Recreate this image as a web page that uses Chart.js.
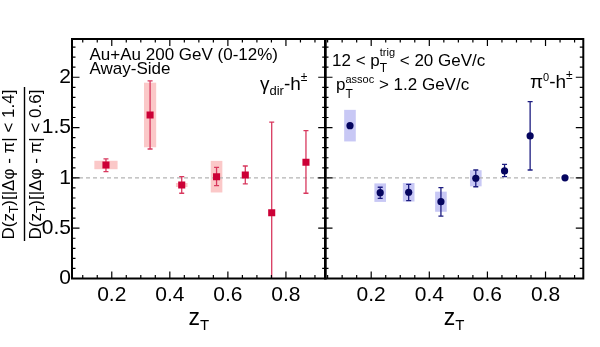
<!DOCTYPE html>
<html>
<head>
<meta charset="utf-8">
<script src="https://cdn.jsdelivr.net/npm/chart.js@4.4.0/dist/chart.umd.min.js"></script>
<style>
  html, body { margin: 0; padding: 0; background: #fff; }
  #wrap { position: relative; width: 600px; height: 347px; }
  #wrap canvas { position: absolute; left: 0; top: 0; }
</style>
</head>
<body>
<div id="wrap">
  <canvas id="gLeft" width="600" height="347"></canvas>
  <canvas id="gRight" width="600" height="347"></canvas>
</div>
<script>
// ======= Dados =======
const xTicks = [0.2, 0.4, 0.6, 0.8];
const yTicks = [0, 0.5, 1, 1.5, 2];
const yRange = [0, 2.38];

// gamma_dir - h (vermelho)
const xRange_gamma = [0.063, 0.937];
const zT_gamma     = [0.180, 0.332, 0.441, 0.561, 0.660, 0.751, 0.869];
const ratio_gamma  = [1.128, 1.625, 0.929, 1.012, 1.029, 0.654, 1.155];
const statUp_gamma = [0.060, 0.338, 0.083, 0.093, 0.089, 0.899, 0.314];
const statDn_gamma = [0.066, 0.338, 0.082, 0.089, 0.089, 0.900, 0.308];
const sys_gamma    = [0.042, 0.321, 0.020, 0.157, 0, 0, 0];
const sysDx_gamma  = [0.040, 0.021, 0.020, 0.020, 0, 0, 0];

// pi0 - h (azul)
const xRange_pi0   = [0.041, 0.930];
const zT_pi0       = [0.127, 0.231, 0.329, 0.440, 0.560, 0.659, 0.747, 0.867];
const ratio_pi0    = [1.519, 0.853, 0.857, 0.763, 0.996, 1.069, 1.417, 1.000];
const statUp_pi0   = [0, 0.054, 0.079, 0.140, 0.082, 0.066, 0.340, 0];
const statDn_pi0   = [0, 0.056, 0.083, 0.143, 0.084, 0.057, 0.339, 0];
const sys_pi0      = [0.157, 0.092, 0.092, 0.100, 0.080, 0, 0, 0];
const sysDx_pi0    = [0.020, 0.020, 0.020, 0.020, 0.020, 0, 0, 0];

const FONTE = '"Liberation Sans", Arial, Helvetica, sans-serif';

// ======= Texto com sub/sobrescrito =======
function medir(ctx, partes) {
  let cx = 0, prevX = 0, prevW = 0;
  partes.forEach(p => {
    ctx.font = p.s + 'px ' + FONTE;
    const w = ctx.measureText(p.t).width;
    if (p.stack) cx = prevX + Math.max(prevW, w);
    else { prevX = cx; prevW = w; cx += w; }
  });
  return cx;
}
function rich(ctx, partes, x, y) {
  let cx = x, prevX = x, prevW = 0;
  ctx.textBaseline = 'alphabetic';
  ctx.textAlign = 'left';
  partes.forEach(p => {
    ctx.font = p.s + 'px ' + FONTE;
    const w = ctx.measureText(p.t).width;
    const px = p.stack ? prevX : cx;
    ctx.fillText(p.t, px, y + (p.dy || 0));
    if (p.stack) cx = prevX + Math.max(prevW, w);
    else { prevX = cx; prevW = w; cx += w; }
  });
}

// ======= Plugin do painel (caixas, barras de erro, moldura, textos) =======
function painel(cfg) {
  return {
    id: 'painel',
    beforeDatasetsDraw(chart) {
      const { ctx, chartArea: a, scales: { x, y } } = chart;
      ctx.save();
      ctx.beginPath();
      ctx.rect(a.left, a.top, a.right - a.left, a.bottom - a.top);
      ctx.clip();
      // caixas sistemáticas
      ctx.fillStyle = cfg.boxColor;
      cfg.zT.forEach((z, i) => {
        if (!cfg.sys[i]) return;
        const x0 = x.getPixelForValue(z - cfg.sysDx[i]);
        const x1 = x.getPixelForValue(z + cfg.sysDx[i]);
        const y0 = y.getPixelForValue(cfg.val[i] + cfg.sys[i]);
        const y1 = y.getPixelForValue(cfg.val[i] - cfg.sys[i]);
        ctx.fillRect(x0, y0, x1 - x0, y1 - y0);
      });
      // linha tracejada em 1
      ctx.strokeStyle = '#b4b4b4';
      ctx.lineWidth = 1.2;
      ctx.setLineDash([4, 3]);
      ctx.beginPath();
      ctx.moveTo(a.left, y.getPixelForValue(1));
      ctx.lineTo(a.right, y.getPixelForValue(1));
      ctx.stroke();
      ctx.setLineDash([]);
      // barras de erro estatístico
      ctx.strokeStyle = cfg.errColor;
      ctx.lineWidth = 1.3;
      cfg.zT.forEach((z, i) => {
        if (!cfg.up[i] && !cfg.dn[i]) return;
        const px = x.getPixelForValue(z);
        const yt = y.getPixelForValue(cfg.val[i] + cfg.up[i]);
        const yb = y.getPixelForValue(cfg.val[i] - cfg.dn[i]);
        ctx.beginPath();
        ctx.moveTo(px, yt); ctx.lineTo(px, yb);
        ctx.moveTo(px - 2.5, yt); ctx.lineTo(px + 2.5, yt);
        ctx.moveTo(px - 2.5, yb); ctx.lineTo(px + 2.5, yb);
        ctx.stroke();
      });
      ctx.restore();
    },
    afterDraw(chart) {
      const { ctx, chartArea: a, scales: { x, y } } = chart;
      ctx.save();
      ctx.strokeStyle = '#000';
      // marcas internas
      ctx.lineWidth = 1.2;
      ctx.beginPath();
      for (let k = Math.ceil(x.min / 0.05); k * 0.05 <= x.max; k++) {
        const px = x.getPixelForValue(k * 0.05);
        const L = (k % 4 === 0) ? 7 : 3.5;
        ctx.moveTo(px, a.bottom); ctx.lineTo(px, a.bottom - L);
        ctx.moveTo(px, a.top); ctx.lineTo(px, a.top + L);
      }
      for (let k = Math.ceil(y.min / 0.1); k * 0.1 <= y.max + 1e-9; k++) {
        const py = y.getPixelForValue(k * 0.1);
        const L = (k % 5 === 0) ? 7.5 : 3.5;
        ctx.moveTo(a.left, py); ctx.lineTo(a.left + L, py);
        ctx.moveTo(a.right, py); ctx.lineTo(a.right - L, py);
      }
      ctx.stroke();
      // moldura
      ctx.lineWidth = 2;
      ctx.strokeRect(a.left, a.top, a.right - a.left, a.bottom - a.top);
      // textos
      ctx.fillStyle = '#000';
      cfg.textos.forEach(t => rich(ctx, t.p, t.x, t.y));
      // título eixo x
      const tx = [{ t: 'z', s: 23 }, { t: 'T', s: 15, dy: 5 }];
      rich(ctx, tx, (a.left + a.right) / 2 - medir(ctx, tx) / 2, 325);
      if (cfg.tituloY) cfg.tituloY(ctx);
      ctx.restore();
    }
  };
}

function tituloY(ctx) {
  const num = [{ t: 'D(z', s: 17 }, { t: 'T', s: 12, dy: 4 }, { t: ')[|Δφ - π| < 1.4]', s: 17 }];
  const den = [{ t: 'D(z', s: 17 }, { t: 'T', s: 12, dy: 4 }, { t: ')[|Δφ - π| < 0.6]', s: 17 }];
  const yc = 164.5;
  [[num, 14], [den, 41]].forEach(([p, bx]) => {
    ctx.save();
    ctx.translate(bx, yc);
    ctx.rotate(-Math.PI / 2);
    rich(ctx, p, -medir(ctx, p) / 2, 0);
    ctx.restore();
  });
  ctx.lineWidth = 1.4;
  ctx.beginPath();
  ctx.moveTo(24.5, 87); ctx.lineTo(24.5, 241);
  ctx.stroke();
}

function eixos(xr, larguraY, mostraY) {
  return {
    x: {
      type: 'linear', min: xr[0], max: xr[1],
      afterBuildTicks: s => { s.ticks = xTicks.map(v => ({ value: v })); },
      afterFit: s => { s.height = 347 - 278.5; },
      grid: { display: false, drawTicks: false },
      border: { display: false },
      ticks: { font: { family: FONTE, size: 21 }, color: '#000', padding: 4, maxRotation: 0, callback: v => String(v) }
    },
    y: {
      type: 'linear', min: yRange[0], max: yRange[1],
      afterBuildTicks: s => { s.ticks = yTicks.map(v => ({ value: v })); },
      afterFit: s => { s.width = larguraY; },
      grid: { display: false, drawTicks: false },
      border: { display: false },
      ticks: { display: mostraY, font: { family: FONTE, size: 21 }, color: '#000', padding: 1, callback: v => String(v) }
    }
  };
}

// ======= Painel esquerdo: gamma_dir - h =======
new Chart(document.getElementById('gLeft'), {
  type: 'scatter',
  data: {
    datasets: [{
      data: zT_gamma.map((z, i) => ({ x: z, y: ratio_gamma[i] })),
      pointStyle: 'rect', pointRadius: 5, backgroundColor: '#cc0036', borderColor: '#cc0036', borderWidth: 0
    }]
  },
  options: {
    responsive: false, animation: false, events: [],
    layout: { padding: { left: 0, top: 39, right: 600 - 325.7, bottom: 0 } },
    plugins: { legend: { display: false }, tooltip: { enabled: false } },
    scales: eixos(xRange_gamma, 72, true)
  },
  plugins: [painel({
    zT: zT_gamma, val: ratio_gamma, up: statUp_gamma, dn: statDn_gamma, sys: sys_gamma, sysDx: sysDx_gamma,
    boxColor: '#fbc8c8', errColor: '#d8385e',
    tituloY: tituloY,
    textos: [
      { x: 89.5, y: 60, p: [{ t: 'Au+Au 200 GeV (0-12%)', s: 17 }] },
      { x: 89.5, y: 74.3, p: [{ t: 'Away-Side', s: 17 }] },
      { x: 260, y: 90, p: [{ t: 'γ', s: 19 }, { t: 'dir', s: 13, dy: 5 }, { t: '-h', s: 19 }, { t: '±', s: 12, dy: -9 }] }
    ]
  })]
});

// ======= Painel direito: pi0 - h =======
new Chart(document.getElementById('gRight'), {
  type: 'scatter',
  data: {
    datasets: [{
      data: zT_pi0.map((z, i) => ({ x: z, y: ratio_pi0[i] })),
      pointStyle: 'circle', pointRadius: 3.6, backgroundColor: '#05055f', borderColor: '#05055f', borderWidth: 0
    }]
  },
  options: {
    responsive: false, animation: false, events: [],
    layout: { padding: { left: 0, top: 39, right: 600 - 583.3, bottom: 0 } },
    plugins: { legend: { display: false }, tooltip: { enabled: false } },
    scales: eixos(xRange_pi0, 325, false)
  },
  plugins: [painel({
    zT: zT_pi0, val: ratio_pi0, up: statUp_pi0, dn: statDn_pi0, sys: sys_pi0, sysDx: sysDx_pi0,
    boxColor: '#c8c8f5', errColor: '#1c1c80',
    textos: [
      { x: 332, y: 66, p: [{ t: '12 < p', s: 17 }, { t: 'T', s: 12, dy: 6 }, { t: 'trig', s: 11, dy: -10, stack: true }, { t: ' < 20 GeV/c', s: 17 }] },
      { x: 336, y: 90, p: [{ t: 'p', s: 17 }, { t: 'T', s: 12, dy: 8 }, { t: 'assoc', s: 11, dy: -7, stack: true }, { t: ' > 1.2 GeV/c', s: 17 }] },
      { x: 530, y: 88, p: [{ t: 'π', s: 19 }, { t: '0', s: 11, dy: -7 }, { t: '-h', s: 19 }, { t: '±', s: 12, dy: -9 }] }
    ]
  })]
});
</script>
</body>
</html>
